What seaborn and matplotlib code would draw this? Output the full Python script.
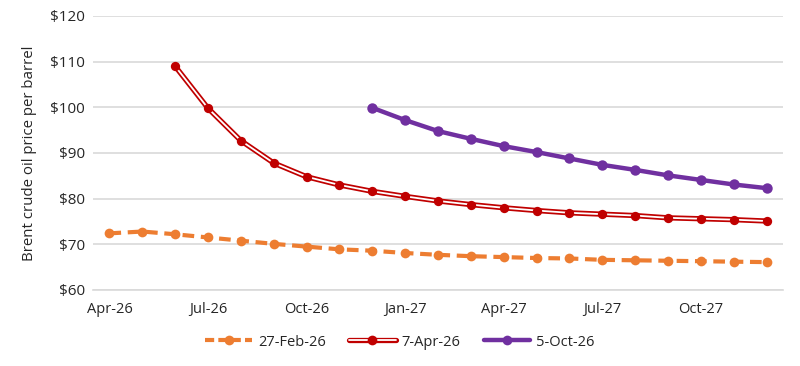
import matplotlib
matplotlib.use("Agg")
import matplotlib.pyplot as plt
from matplotlib.lines import Line2D
from matplotlib.legend_handler import HandlerTuple
import seaborn as sns
import pandas as pd
import numpy as np

months = ["Apr-26", "May-26", "Jun-26", "Jul-26", "Aug-26", "Sep-26", "Oct-26", "Nov-26", "Dec-26",
          "Jan-27", "Feb-27", "Mar-27", "Apr-27", "May-27", "Jun-27", "Jul-27", "Aug-27", "Sep-27",
          "Oct-27", "Nov-27", "Dec-27"]
tick_labels = ["Apr-26", "Jul-26", "Oct-26", "Jan-27", "Apr-27", "Jul-27", "Oct-27"]

feb26 = [72.4, 72.8, 72.2, 71.5, 70.8, 70.1, 69.5, 68.9, 68.6, 68.1, 67.7, 67.4, 67.2, 67.0,
         66.9, 66.6, 66.5, 66.4, 66.3, 66.2, 66.1]
apr26 = [109.0, 99.8, 92.7, 87.8, 84.8, 83.0, 81.6, 80.5, 79.5, 78.7, 78.0, 77.4, 76.9, 76.6,
         76.3, 75.8, 75.6, 75.4, 75.1]
oct26 = [99.9, 97.2, 94.8, 93.1, 91.5, 90.2, 88.8, 87.4, 86.3, 85.1, 84.1, 83.1, 82.3]

c_or = "#ED7D31"
c_red = "#C00000"
c_pur = "#7030A0"

sns.set_theme(style="white")
plt.rcParams["font.family"] = ["Open Sans", "DejaVu Sans"]

idx = np.arange(len(months))
df_or = pd.DataFrame({"x": idx, "v": feb26})
df_red = pd.DataFrame({"x": idx[len(months) - len(apr26):], "v": apr26})
df_pur = pd.DataFrame({"x": idx[len(months) - len(oct26):], "v": oct26})

fig = plt.figure(figsize=(8, 3.66), dpi=100)
ax = fig.add_axes([0.11625, 0.2077, 0.8625, 0.7486])

for yv in range(60, 130, 10):
    ax.axhline(yv, color="#d9d9d9", lw=1.2, zorder=0)

dash = (0, (2.8, 1.6))
sns.lineplot(data=df_or, x="x", y="v", ax=ax, color=c_or, lw=3, marker="o", markersize=7,
             markeredgewidth=0, dashes=False, linestyle=dash, zorder=3)
sns.lineplot(data=df_red, x="x", y="v", ax=ax, color=c_red, lw=3.8, zorder=4)
sns.lineplot(data=df_red, x="x", y="v", ax=ax, color="white", lw=1.3, zorder=5)
sns.scatterplot(data=df_red, x="x", y="v", ax=ax, color=c_red, s=45, linewidth=0, zorder=6)
sns.lineplot(data=df_pur, x="x", y="v", ax=ax, color=c_pur, lw=3.2, marker="o", markersize=7.5,
             markeredgewidth=0, zorder=7)

ax.set_xlim(-0.5, len(months) - 0.5)
ax.set_ylim(60, 120)
ax.set_yticks(range(60, 130, 10))
ax.set_yticklabels([f"${v}" for v in range(60, 130, 10)], fontsize=11, color="#262626")
ax.set_xticks([months.index(t) for t in tick_labels])
ax.set_xticklabels(tick_labels, fontsize=10.5, color="#262626")
ax.set_xticks(np.arange(-0.5, len(months), 3), minor=True)
ax.tick_params(axis="x", which="major", length=0, pad=9)
ax.tick_params(axis="x", which="minor", length=5, color="#d9d9d9", width=1.2, direction="out")
ax.tick_params(axis="y", length=0, pad=6)
ax.set_xlabel("")
ax.set_ylabel("Brent crude oil price per barrel", fontsize=10.8, color="#262626", labelpad=9)
for s in ["top", "right", "left"]:
    ax.spines[s].set_visible(False)
ax.spines["bottom"].set_color("#d9d9d9")
ax.spines["bottom"].set_linewidth(1.2)

h_or = Line2D([], [], color=c_or, lw=3, linestyle=(0, (2.2, 1.0)), marker="o", markersize=7,
              markeredgewidth=0)
h_red = (Line2D([], [], color=c_red, lw=3.8),
         Line2D([], [], color="white", lw=1.3),
         Line2D([], [], color=c_red, lw=0, marker="o", markersize=7, markeredgewidth=0))
h_pur = Line2D([], [], color=c_pur, lw=3.2, marker="o", markersize=7, markeredgewidth=0)
fig.legend([h_or, h_red, h_pur], ["27-Feb-26", "7-Apr-26", "5-Oct-26"],
           handler_map={tuple: HandlerTuple(ndivide=1, pad=0)},
           loc="center", bbox_to_anchor=(0.5, 1 - 342 / 366), ncol=3, frameon=False,
           fontsize=10.5, handlelength=3.2, columnspacing=1.6, handletextpad=0.4,
           labelcolor="#262626")

fig.savefig("out.png", dpi=100)
